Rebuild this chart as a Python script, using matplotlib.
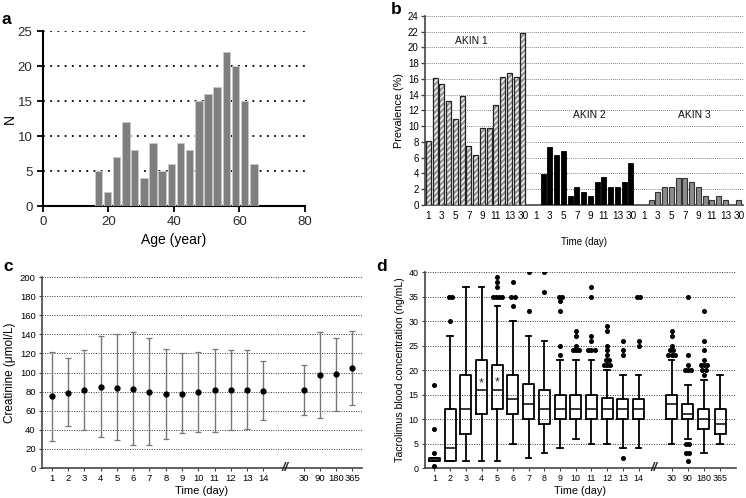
import matplotlib
matplotlib.use('Agg')
import matplotlib.pyplot as plt
import numpy as np

plt.rcParams['font.family'] = ['Liberation Sans', 'DejaVu Sans']

# ---------------- data ----------------
# panel a: age histogram
age_bin_centers = [16.9, 19.7, 22.5, 25.3, 28.0, 30.8, 33.6, 36.4, 39.2, 42.0,
                   44.8, 47.6, 50.4, 53.2, 56.0, 58.8, 61.6, 64.4]
age_counts = [5, 2, 7, 12, 8, 4, 9, 5, 6, 9, 8, 15, 16, 17, 22, 20, 15, 6]

# panel b: AKIN prevalence by day
akin_days = ['1', '2', '3', '4', '5', '6', '7', '8', '9', '10', '11', '12', '13', '14', '30']
akin1 = [8.1, 16.1, 15.3, 13.2, 10.9, 13.8, 7.5, 6.4, 9.8, 9.8, 12.7, 16.2, 16.8, 16.2, 21.9]
akin2 = [0, 3.9, 7.4, 6.3, 6.9, 1.1, 2.3, 1.7, 1.2, 2.9, 3.5, 2.3, 2.3, 2.9, 5.3]
akin3 = [0, 0.6, 1.7, 2.3, 2.3, 3.4, 3.4, 2.9, 2.3, 1.2, 0.6, 1.2, 0.6, 0, 0.6]
akin_names = ['AKIN 1', 'AKIN 2', 'AKIN 3']

# panel c: creatinine
time_days = ['1', '2', '3', '4', '5', '6', '7', '8', '9', '10', '11', '12', '13', '14',
             '30', '90', '180', '365']
creat_mean = [75, 79, 82, 85, 84, 83, 80, 78, 78, 80, 82, 82, 82, 81, 82, 97, 98, 105]
creat_low = [28, 44, 40, 33, 29, 24, 24, 30, 37, 38, 38, 40, 41, 50, 56, 52, 60, 66]
creat_high = [122, 115, 124, 138, 140, 142, 136, 125, 120, 122, 125, 124, 124, 112, 108, 142, 136, 144]

# panel d: tacrolimus box plots
tac_q1 = [1.4, 1.5, 7, 11, 12, 11, 10, 9, 10, 10, 10, 10, 10, 10, 10, 10, 8, 7]
tac_med = [1.7, 4, 12, 16, 16, 14, 13, 12, 12, 12, 12, 12, 12, 12, 13, 11, 10, 9]
tac_q3 = [2.0, 12, 19, 22, 21, 19, 17.2, 16, 15, 15, 15, 14.2, 14, 14, 15, 13, 12, 12]
tac_wlo = [1.4, 1.5, 1.5, 1.5, 1.5, 5, 2, 3, 4, 6, 5, 5, 4, 4, 5, 6, 3, 5]
tac_whi = [2.0, 27, 37, 37, 33, 30, 27, 26, 22, 22, 22, 20, 19, 19, 22, 17, 18, 19]
tac_fliers = [
    [0.5, 3, 8, 17],
    [30, 35, 35],
    [],
    [],
    [35, 35, 35, 35, 37, 38, 39],
    [33, 35, 35, 38],
    [32, 40],
    [36, 40],
    [23, 25, 32, 34, 35, 35],
    [24, 24, 24, 25, 27, 28],
    [24, 24, 24, 26, 27, 35, 37],
    [21, 21, 21, 22, 22, 23, 24, 25, 28, 29],
    [2, 23, 24, 26],
    [25, 26, 35, 35],
    [23, 23, 23, 24, 24, 25, 27, 28],
    [1.5, 3, 3, 5, 5, 20, 20, 20, 21, 23, 35],
    [19, 20, 20, 21, 21, 21, 22, 24, 26, 32],
    [],
]
tac_means_marked = {3: 17.2, 4: 17.5}

# ---------------- figure ----------------
fig = plt.figure(figsize=(7.46, 4.98), dpi=100)

SP = '#444444'


def clean(ax, color=SP, lw=1.2):
    for s in ['top', 'right']:
        ax.spines[s].set_visible(False)
    for s in ['left', 'bottom']:
        ax.spines[s].set_color(color)
        ax.spines[s].set_linewidth(lw)


# ---- a ----
axa = fig.add_axes([0.0576, 0.5863, 0.3512, 0.3514])
axa.bar(age_bin_centers, age_counts, width=2.3, color='#7f7f7f', edgecolor='#c8c8c8',
        linewidth=0.7, zorder=3)
axa.set_xlim(0, 80)
axa.set_ylim(0, 25)
axa.set_xticks([0, 20, 40, 60, 80])
axa.set_yticks([0, 5, 10, 15, 20, 25])
axa.yaxis.grid(True, linestyle=(0, (1, 3)), color='black', linewidth=1.3)
axa.set_axisbelow(True)
clean(axa, 'black', 1.5)
axa.tick_params(labelsize=9.5, length=4, width=1.3, color='black', labelcolor='#2a2a2a')
axa.set_xlabel('Age (year)', fontsize=10, labelpad=3)
axa.set_ylabel('N', fontsize=10)
axa.yaxis.set_label_coords(-0.1, 0.5)

# ---- b ----
axb = fig.add_axes([0.5697, 0.5884, 0.4263, 0.3795])
n = len(akin_days)
gap = 1
series = [akin1, akin2, akin3]
tick_pos, tick_lab = [], []
for g, vals in enumerate(series):
    base = g * (n + gap)
    xs = np.arange(n) + base
    vals = np.array(vals, dtype=float)
    m = vals > 0
    if g == 0:
        axb.bar(xs[m], vals[m], width=0.75, color='#9a9a9a', edgecolor='white',
                hatch='//////', linewidth=0, zorder=3)
        axb.bar(xs[m], vals[m], width=0.75, facecolor='none', edgecolor='#222222',
                linewidth=0.9, zorder=4)
    elif g == 1:
        axb.bar(xs[m], vals[m], width=0.75, color='black', edgecolor='black',
                linewidth=0.6, zorder=3)
    else:
        axb.bar(xs[m], vals[m], width=0.75, color='#8c8c8c', edgecolor='#333333',
                linewidth=0.8, zorder=3)
    for i, d in enumerate(akin_days):
        if i % 2 == 0:
            tick_pos.append(base + i)
            tick_lab.append(d)
name_pos = [(6.4, 20.8), (23.8, 11.4), (39.4, 11.4)]
for nm, (px, py) in zip(akin_names, name_pos):
    axb.text(px, py, nm, ha='center', va='center', fontsize=7.4, color='#111111')
axb.set_xlim(-0.5, 3 * n + 2 * gap - 0.4)
axb.set_ylim(0, 24)
axb.set_yticks(np.arange(0, 25, 2))
axb.set_xticks(tick_pos)
axb.set_xticklabels(tick_lab)
axb.yaxis.grid(True, linestyle=(0, (1, 1.5)), color='#555555', linewidth=0.6)
axb.set_axisbelow(True)
clean(axb)
axb.tick_params(axis='y', labelsize=7, length=3, width=1, color=SP, pad=1.5)
axb.tick_params(axis='x', labelsize=7.2, length=0, pad=4.5)
axb.set_xlabel('Time (day)', fontsize=7, labelpad=11)
axb.set_ylabel('Prevalence (%)', fontsize=7.8, labelpad=3)

# ---- c ----
axc = fig.add_axes([0.0563, 0.0602, 0.4290, 0.3835])
xc = np.array(list(range(14)) + [15.5 + i * 0.98 for i in range(4)])
mean = np.array(creat_mean, float)
err = np.vstack([mean - np.array(creat_low), np.array(creat_high) - mean])
axc.errorbar(xc, mean, yerr=err, fmt='o', color='black', ms=3.5, ecolor='#777777',
             elinewidth=1.0, capsize=2, capthick=0.9, zorder=3)
axc.set_xlim(-0.6, 19.05)
axc.set_ylim(0, 200)
axc.set_yticks(np.arange(0, 201, 20))
axc.set_xticks(xc)
axc.set_xticklabels(time_days)
axc.yaxis.grid(True, linestyle=(0, (1, 1.5)), color='#333333', linewidth=0.7)
axc.set_axisbelow(True)
clean(axc)
axc.tick_params(labelsize=6.8, length=2.5, width=0.8, color=SP, pad=2)
axc.text(14.3, 0, '//', ha='center', va='center', fontsize=9, fontweight='bold',
         fontstyle='italic', color='#222222', zorder=5, clip_on=False)
axc.set_xlabel('Time (day)', fontsize=8, labelpad=2)
axc.set_ylabel('Creatinine (\u03bcmol/L)', fontsize=8.5, labelpad=3)

# ---- d ----
axd = fig.add_axes([0.5697, 0.0602, 0.4169, 0.3936])
xd = np.array(list(range(14)) + [15.1 + i * 1.03 for i in range(4)])
stats = []
for i in range(len(time_days)):
    stats.append(dict(med=tac_med[i], q1=tac_q1[i], q3=tac_q3[i], whislo=tac_wlo[i],
                      whishi=tac_whi[i], fliers=[], label=time_days[i]))
lp = dict(color='black', linewidth=1.3)
axd.bxp(stats, positions=xd, widths=0.7, showfliers=False, patch_artist=False,
        boxprops=lp, medianprops=dict(color='black', linewidth=1.1),
        whiskerprops=lp, capprops=lp, capwidths=0.35, manage_ticks=False)
for i, fl in enumerate(tac_fliers):
    vals, counts = np.unique(fl, return_counts=True)
    for v, k in zip(vals, counts):
        offs = (np.arange(k) - (k - 1) / 2) * 0.2
        axd.plot(xd[i] + offs, [v] * k, 'o', color='black', ms=2.6, zorder=4)
for i, v in tac_means_marked.items():
    axd.text(xd[i], v, '*', ha='center', va='center', fontsize=9, color='#222222')
axd.set_xlim(-0.6, 19.2)
axd.set_ylim(0, 40)
axd.set_yticks(np.arange(0, 41, 5))
axd.set_xticks(xd)
axd.set_xticklabels(time_days)
axd.yaxis.grid(True, linestyle=(0, (1, 1.5)), color='#333333', linewidth=0.7)
axd.set_axisbelow(True)
clean(axd)
axd.tick_params(labelsize=6.4, length=2.5, width=0.8, color=SP, pad=2)
axd.text(14.0, 0, '//', ha='center', va='center', fontsize=9, fontweight='bold',
         fontstyle='italic', color='#222222', zorder=5, clip_on=False)
axd.set_xlabel('Time (day)', fontsize=7.8, labelpad=2)
axd.set_ylabel('Tacrolimus blood concentration (ng/mL)', fontsize=7.6, labelpad=3)

# panel letters
for letter, x, y in [('a', 0.002, 0.952), ('b', 0.524, 0.972), ('c', 0.004, 0.456), ('d', 0.504, 0.456)]:
    fig.text(x, y, letter, fontsize=12.5, fontweight='bold', ha='left', va='baseline')

fig.savefig('out.png', dpi=100)
